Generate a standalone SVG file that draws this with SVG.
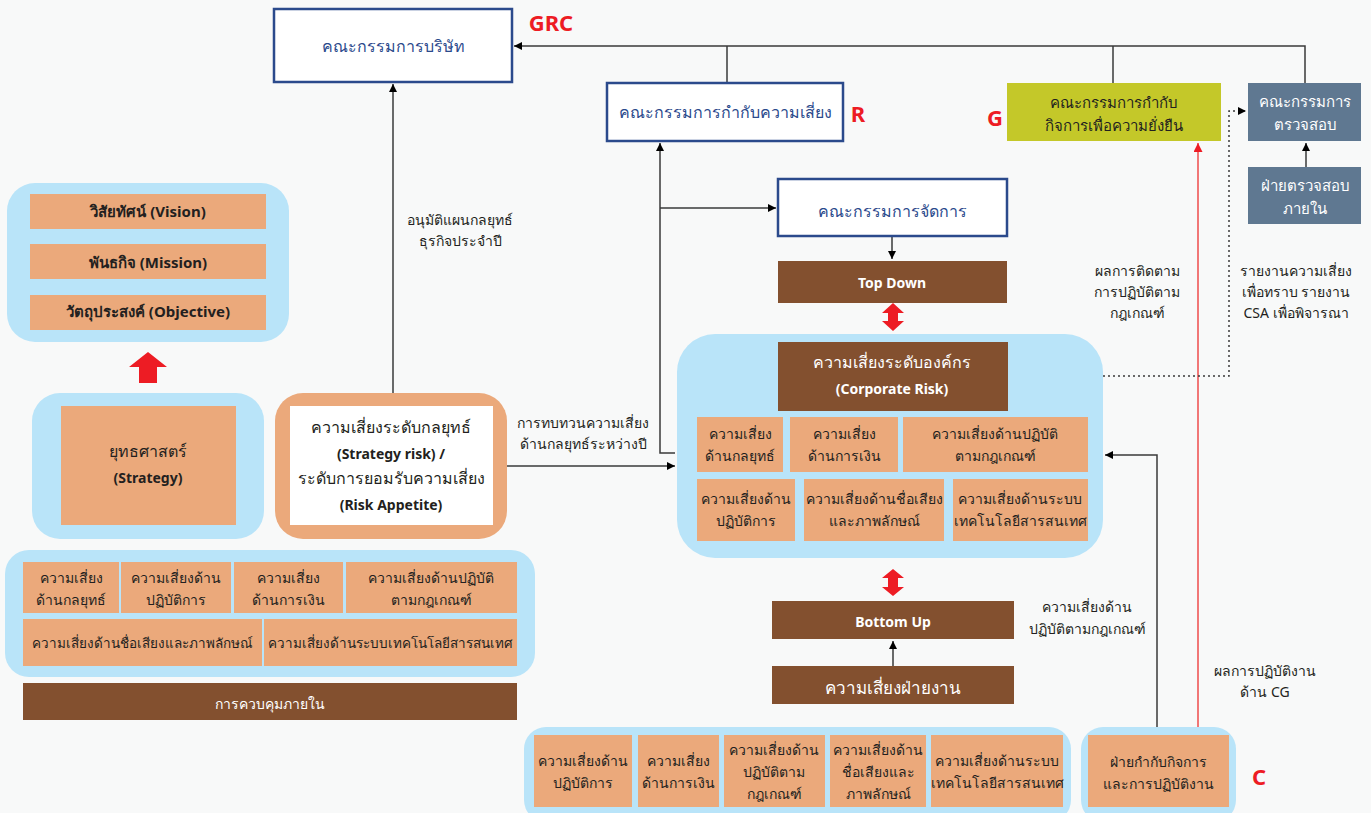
<svg xmlns="http://www.w3.org/2000/svg" width="1371" height="813" viewBox="0 0 1371 813">
<defs>
<style>
text{font-family:"Noto Sans","Liberation Sans",sans-serif;text-anchor:middle;dominant-baseline:central;fill:#231f20;font-size:14px}
.nav{fill:#2b4a8c;font-size:16px}
.wh{fill:#ffffff}
.b{font-weight:bold}
.red{fill:#ed1c24;font-weight:bold;font-size:22px}
.bl{fill:#b9e4f9}
.tan{fill:#eba97b}
.br{fill:#83502f}
.wbox{fill:#ffffff;stroke:#2b4a8c;stroke-width:2.5}
.sl{fill:#5f7891}
.ln{fill:none;stroke:#3a3a3a;stroke-width:1.5}
.rl{fill:none;stroke:#ef4b4b;stroke-width:1.5}
.dl{fill:none;stroke:#3a3a3a;stroke-width:1.5;stroke-dasharray:2 3}
</style>
<marker id="ah" viewBox="0 0 10 10" refX="10" refY="5" markerWidth="8" markerHeight="8" markerUnits="userSpaceOnUse" orient="auto"><path d="M0,0 L10,5 L0,10 z" fill="#000"/></marker>
<marker id="ahr" viewBox="0 0 10 10" refX="10" refY="5" markerWidth="9" markerHeight="9" markerUnits="userSpaceOnUse" orient="auto"><path d="M0,0 L10,5 L0,10 z" fill="#ed1c24"/></marker>
</defs>
<rect width="1371" height="813" fill="#f8f9f9"/>

<g id="connectors">
<path class="ln" d="M1305,83 V46 H514" marker-end="url(#ah)"/>
<path class="ln" d="M727,83 V46"/>
<path class="ln" d="M1113,83 V46"/>
<path class="ln" d="M393,393 V84" marker-end="url(#ah)"/>
<path class="ln" d="M675,453 H660 V143" marker-end="url(#ah)"/>
<path class="ln" d="M660,208 H776" marker-end="url(#ah)"/>
<path class="ln" d="M892,236 V259" marker-end="url(#ah)"/>
<path class="ln" d="M507,466 H675" marker-end="url(#ah)"/>
<path class="ln" d="M893,666 V641" marker-end="url(#ah)"/>
<path class="ln" d="M1306,167 V143" marker-end="url(#ah)"/>
<path class="ln" d="M1157,727 V455 H1105" marker-end="url(#ah)"/>
<path class="rl" d="M1198,727 V143" marker-end="url(#ahr)"/>
<path class="dl" d="M1008,376 H1229 V111 H1246" marker-end="url(#ah)"/>
<path d="M893,303 L904,313 L898,313 L898,321 L904,321 L893,331 L882,321 L888,321 L888,313 L882,313 z" fill="#ed1c24"/>
<path d="M893,569 L904,578 L898,578 L898,587 L904,587 L893,596 L882,587 L888,587 L888,578 L882,578 z" fill="#ed1c24"/>
<path d="M148,352 L167,367 L157,367 L157,383 L139,383 L139,367 L129,367 z" fill="#ed1c24"/>
<text x="460" y="219">อนุมัติแผนกลยุทธ์</text>
<text x="460" y="240">ธุรกิจประจำปี</text>
<text x="583" y="422">การทบทวนความเสี่ยง</text>
<text x="583" y="443">ด้านกลยุทธ์ระหว่างปี</text>
<text x="1137" y="270">ผลการติดตาม</text>
<text x="1137" y="291">การปฏิบัติตาม</text>
<text x="1137" y="312">กฎเกณฑ์</text>
<text x="1296" y="270">รายงานความเสี่ยง</text>
<text x="1296" y="291">เพื่อทราบ รายงาน</text>
<text x="1296" y="312">CSA เพื่อพิจารณา</text>
<text x="1087" y="606">ความเสี่ยงด้าน</text>
<text x="1087" y="628">ปฏิบัติตามกฎเกณฑ์</text>
<text x="1265" y="670">ผลการปฏิบัติงาน</text>
<text x="1265" y="691">ด้าน CG</text>
</g>

<g id="board">
<rect class="wbox" x="274" y="9" width="238" height="73"/>
<text class="nav" x="393" y="46">คณะกรรมการบริษัท</text>
<text class="red" x="551" y="22">GRC</text>
</g>

<g id="risk-committee">
<rect class="wbox" x="607" y="83" width="236" height="58"/>
<text class="nav" x="725" y="112">คณะกรรมการกำกับความเสี่ยง</text>
<text class="red" x="858" y="113">R</text>
</g>

<g id="sustain-committee">
<rect x="1007" y="83" width="214" height="58" fill="#c4c829"/>
<text x="1114" y="102" style="font-size:15px">คณะกรรมการกำกับ</text>
<text x="1114" y="125" style="font-size:15px">กิจการเพื่อความยั่งยืน</text>
<text class="red" x="995" y="117">G</text>
</g>

<g id="audit-committee">
<rect class="sl" x="1248" y="83" width="113" height="58"/>
<text class="wh" x="1305" y="101" style="font-size:15px">คณะกรรมการ</text>
<text class="wh" x="1305" y="124" style="font-size:15px">ตรวจสอบ</text>
</g>

<g id="internal-audit">
<rect class="sl" x="1248" y="167" width="113" height="57"/>
<text class="wh" x="1305" y="185" style="font-size:15px">ฝ่ายตรวจสอบ</text>
<text class="wh" x="1305" y="208" style="font-size:15px">ภายใน</text>
</g>

<g id="management">
<rect class="wbox" x="778" y="179" width="229" height="57"/>
<text class="nav" x="892" y="211">คณะกรรมการจัดการ</text>
</g>

<g id="top-down">
<rect class="br" x="778" y="261" width="229" height="42"/>
<text class="wh b" x="892" y="282">Top Down</text>
</g>

<g id="vision-group">
<rect class="bl" x="7" y="183" width="282" height="159" rx="28"/>
<rect class="tan" x="30" y="194" width="236" height="35"/>
<text class="b" x="148" y="211" style="font-size:15px">วิสัยทัศน์ (Vision)</text>
<rect class="tan" x="30" y="244" width="236" height="35"/>
<text class="b" x="148" y="262" style="font-size:15px">พันธกิจ (Mission)</text>
<rect class="tan" x="30" y="295" width="236" height="35"/>
<text class="b" x="148" y="311" style="font-size:15px">วัตถุประสงค์ (Objective)</text>
</g>

<g id="strategy">
<rect class="bl" x="32" y="393" width="232" height="146" rx="28"/>
<rect class="tan" x="61" y="406" width="175" height="119"/>
<text x="148" y="451" style="font-size:16px">ยุทธศาสตร์</text>
<text class="b" x="148" y="477">(Strategy)</text>
</g>

<g id="strategy-risk">
<rect class="tan" x="275" y="393" width="232" height="146" rx="28"/>
<rect x="290" y="406" width="203" height="119" fill="#ffffff"/>
<text x="391" y="427" style="font-size:16px">ความเสี่ยงระดับกลยุทธ์</text>
<text class="b" x="391" y="453">(Strategy risk) /</text>
<text x="391" y="478" style="font-size:16px">ระดับการยอมรับความเสี่ยง</text>
<text class="b" x="391" y="504">(Risk Appetite)</text>
</g>

<g id="left-risks">
<rect class="bl" x="5" y="550" width="530" height="127" rx="24"/>
<rect class="tan" x="23" y="562" width="96" height="51"/>
<text x="71" y="577">ความเสี่ยง</text>
<text x="71" y="599">ด้านกลยุทธ์</text>
<rect class="tan" x="121" y="562" width="110" height="51"/>
<text x="176" y="577">ความเสี่ยงด้าน</text>
<text x="176" y="599">ปฏิบัติการ</text>
<rect class="tan" x="234" y="562" width="109" height="51"/>
<text x="288" y="577">ความเสี่ยง</text>
<text x="288" y="599">ด้านการเงิน</text>
<rect class="tan" x="346" y="562" width="171" height="51"/>
<text x="431" y="577">ความเสี่ยงด้านปฏิบัติ</text>
<text x="431" y="599">ตามกฎเกณฑ์</text>
<rect class="tan" x="23" y="619" width="239" height="47"/>
<text x="142" y="643" style="font-size:13.5px">ความเสี่ยงด้านชื่อเสียงและภาพลักษณ์</text>
<rect class="tan" x="264" y="619" width="253" height="47"/>
<text x="390" y="643" style="font-size:13.5px">ความเสี่ยงด้านระบบเทคโนโลยีสารสนเทศ</text>
</g>

<g id="internal-control">
<rect class="br" x="23" y="683" width="494" height="37"/>
<text class="wh" x="270" y="703">การควบคุมภายใน</text>
</g>

<g id="corporate">
<rect class="bl" x="677" y="334" width="426" height="224" rx="38"/>
<rect class="br" x="778" y="342" width="230" height="69"/>
<text class="wh" x="892" y="362" style="font-size:16px">ความเสี่ยงระดับองค์กร</text>
<text class="wh b" x="892" y="388">(Corporate Risk)</text>
<rect class="tan" x="697" y="417" width="86" height="55"/>
<text x="740" y="433">ความเสี่ยง</text>
<text x="740" y="455">ด้านกลยุทธ์</text>
<rect class="tan" x="790" y="417" width="108" height="55"/>
<text x="844" y="433">ความเสี่ยง</text>
<text x="844" y="455">ด้านการเงิน</text>
<rect class="tan" x="903" y="417" width="185" height="55"/>
<text x="995" y="433">ความเสี่ยงด้านปฏิบัติ</text>
<text x="995" y="455">ตามกฎเกณฑ์</text>
<rect class="tan" x="697" y="479" width="98" height="62"/>
<text x="746" y="498">ความเสี่ยงด้าน</text>
<text x="746" y="520">ปฏิบัติการ</text>
<rect class="tan" x="804" y="479" width="140" height="62"/>
<text x="874" y="498">ความเสี่ยงด้านชื่อเสียง</text>
<text x="874" y="520">และภาพลักษณ์</text>
<rect class="tan" x="953" y="479" width="135" height="62"/>
<text x="1020" y="498">ความเสี่ยงด้านระบบ</text>
<text x="1020" y="520">เทคโนโลยีสารสนเทศ</text>
</g>

<g id="bottom-up">
<rect class="br" x="772" y="601" width="242" height="38"/>
<text class="wh b" x="893" y="621">Bottom Up</text>
</g>

<g id="unit-risk">
<rect class="br" x="772" y="666" width="242" height="38"/>
<text class="wh" x="893" y="687" style="font-size:17px">ความเสี่ยงฝ่ายงาน</text>
</g>

<g id="unit-risks">
<rect class="bl" x="524" y="727" width="547" height="95" rx="22"/>
<rect class="tan" x="534" y="735" width="98" height="72"/>
<text x="583" y="760">ความเสี่ยงด้าน</text>
<text x="583" y="782">ปฏิบัติการ</text>
<rect class="tan" x="638" y="735" width="81" height="72"/>
<text x="678" y="760">ความเสี่ยง</text>
<text x="678" y="782">ด้านการเงิน</text>
<rect class="tan" x="724" y="735" width="101" height="72"/>
<text x="774" y="749">ความเสี่ยงด้าน</text>
<text x="774" y="771">ปฏิบัติตาม</text>
<text x="774" y="793">กฎเกณฑ์</text>
<rect class="tan" x="830" y="735" width="96" height="72"/>
<text x="878" y="749">ความเสี่ยงด้าน</text>
<text x="878" y="771">ชื่อเสียงและ</text>
<text x="878" y="793">ภาพลักษณ์</text>
<rect class="tan" x="931" y="735" width="132" height="72"/>
<text x="997" y="760">ความเสี่ยงด้านระบบ</text>
<text x="997" y="782">เทคโนโลยีสารสนเทศ</text>
</g>

<g id="compliance-unit">
<rect class="bl" x="1081" y="727" width="155" height="95" rx="22"/>
<rect class="tan" x="1088" y="735" width="141" height="72"/>
<text x="1158" y="761">ฝ่ายกำกับกิจการ</text>
<text x="1158" y="783">และการปฏิบัติงาน</text>
<text class="red" x="1259" y="776">C</text>
</g>
</svg>
